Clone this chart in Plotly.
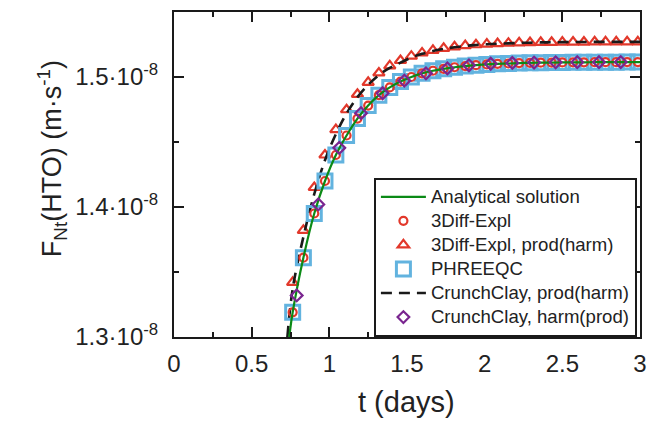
import numpy as np
import plotly.graph_objects as go

# ---------------- data (flux in units of 1e-8 m/s, time in days) ----------------
t_grid = [0.764, 0.833, 0.903, 0.972, 1.042, 1.111, 1.181, 1.250, 1.319, 1.389,
          1.458, 1.528, 1.597, 1.667, 1.736, 1.806, 1.875, 1.944, 2.014, 2.083,
          2.153, 2.222, 2.292, 2.361, 2.431, 2.500, 2.569, 2.639, 2.708, 2.778,
          2.847, 2.917, 2.986]

diff_expl = [1.319, 1.361, 1.395, 1.420, 1.440, 1.455, 1.468, 1.478, 1.486, 1.492,
             1.4965, 1.5000, 1.5028, 1.5048, 1.5063, 1.5075, 1.5084, 1.5091, 1.5097, 1.5101,
             1.5104, 1.5107, 1.5109, 1.5110, 1.5111, 1.5112, 1.5113, 1.5113, 1.5114, 1.5114,
             1.5114, 1.5115, 1.5115]

diff_expl_prod = [1.342, 1.382, 1.415, 1.440, 1.4595, 1.4748, 1.4867, 1.4959, 1.5031, 1.5086,
                  1.5127, 1.5160, 1.5185, 1.5205, 1.5220, 1.5232, 1.5241, 1.5248, 1.5253, 1.5257,
                  1.5260, 1.5263, 1.5265, 1.5266, 1.5267, 1.5268, 1.5269, 1.5269, 1.5270, 1.5270,
                  1.5270, 1.5270, 1.5270]

phreeqc = [1.319, 1.361, 1.395, 1.420, 1.440, 1.455, 1.468, 1.478, 1.486, 1.492,
           1.4965, 1.5000, 1.5028, 1.5048, 1.5063, 1.5075, 1.5084, 1.5091, 1.5097, 1.5101,
           1.5104, 1.5107, 1.5109, 1.5110, 1.5111, 1.5112, 1.5113, 1.5113, 1.5114, 1.5114,
           1.5114, 1.5115, 1.5115]

t_analytical = [0.742, 0.764, 0.833, 0.903, 0.972, 1.042, 1.111, 1.181, 1.250, 1.319, 1.389,
                1.458, 1.528, 1.597, 1.667, 1.736, 1.806, 1.875, 1.944, 2.014, 2.083,
                2.153, 2.222, 2.292, 2.361, 2.431, 2.500, 2.569, 2.639, 2.708, 2.778,
                2.847, 2.917, 2.986, 3.000]
analytical = [1.300, 1.319, 1.361, 1.395, 1.420, 1.440, 1.455, 1.468, 1.478, 1.486, 1.492,
              1.4965, 1.5000, 1.5028, 1.5048, 1.5063, 1.5075, 1.5084, 1.5091, 1.5097, 1.5101,
              1.5104, 1.5107, 1.5109, 1.5110, 1.5111, 1.5112, 1.5113, 1.5113, 1.5114, 1.5114,
              1.5114, 1.5115, 1.5115, 1.5115]

t_crunch_prod = [0.730, 0.764, 0.833, 0.903, 0.972, 1.042, 1.111, 1.181, 1.250, 1.319, 1.389,
                 1.458, 1.528, 1.597, 1.667, 1.736, 1.806, 1.875, 1.944, 2.014, 2.083,
                 2.153, 2.222, 2.292, 2.361, 2.431, 2.500, 2.569, 2.639, 2.708, 2.778,
                 2.847, 2.917, 2.986, 3.000]
crunch_prod = [1.300, 1.337, 1.377, 1.410, 1.436, 1.456, 1.472, 1.4845, 1.494, 1.5015, 1.507,
               1.511, 1.5150, 1.5178, 1.5200, 1.5216, 1.5229, 1.5239, 1.5246, 1.5252, 1.5256,
               1.5259, 1.5262, 1.5264, 1.5266, 1.5267, 1.5268, 1.5269, 1.5269, 1.5270, 1.5270,
               1.5270, 1.5270, 1.5270, 1.5270]

t_crunch_harm = [0.790, 0.929, 1.064, 1.204, 1.343, 1.483, 1.622, 1.760, 1.899, 2.039,
                 2.178, 2.318, 2.457, 2.596, 2.736, 2.876]
crunch_harm = [1.332, 1.402, 1.4455, 1.4722, 1.4875, 1.4972, 1.5028, 1.5066, 1.5090, 1.5102,
               1.5108, 1.5111, 1.5113, 1.5114, 1.5114, 1.5115]

y_tick_vals = [1.3, 1.4, 1.5]
y_tick_text = ["1.3·10<sup>-8</sup>", "1.4·10<sup>-8</sup>", "1.5·10<sup>-8</sup>"]
y_minor_vals = [1.35, 1.45]

SCALE = 1e-8
def sc(v):
    return (np.array(v) * SCALE).tolist()

RED = "#e2382b"
BLUE = "#62b3df"
PURPLE = "#7a2590"
GREEN = "#0b8a16"
AX = "#1a1a1a"
FONT = "Liberation Sans"

def lname(s):
    return '<span style="font-size:18.6px">' + s + '</span>'

fig = go.Figure()

fig.add_trace(go.Scatter(
    x=t_grid, y=sc(diff_expl_prod), mode="markers", name=lname("3Diff-Expl, prod(harm)"),
    legendrank=3,
    marker=dict(symbol="triangle-up-open", size=10, color=RED, line=dict(width=2.2, color=RED))))

fig.add_trace(go.Scatter(
    x=t_crunch_prod, y=sc(crunch_prod), mode="lines", name=lname("CrunchClay, prod(harm)"),
    legendrank=5, line=dict(color=AX, width=2.6, dash="11px,7px", shape="spline")))

fig.add_trace(go.Scatter(
    x=t_grid, y=sc(phreeqc), mode="markers", name=lname("PHREEQC"), legendrank=4,
    marker=dict(symbol="square-open", size=14, color=BLUE, line=dict(width=3, color=BLUE))))

fig.add_trace(go.Scatter(
    x=t_grid, y=sc(diff_expl), mode="markers", name=lname("3Diff-Expl"), legendrank=2,
    marker=dict(symbol="circle-open", size=8, color=RED, line=dict(width=2.2, color=RED))))

fig.add_trace(go.Scatter(
    x=t_analytical, y=sc(analytical), mode="lines", name=lname("Analytical solution"),
    legendrank=1, line=dict(color=GREEN, width=2.2, shape="spline")))

fig.add_trace(go.Scatter(
    x=t_crunch_harm, y=sc(crunch_harm), mode="markers", name=lname("CrunchClay, harm(prod)"),
    legendrank=6,
    marker=dict(symbol="diamond-open", size=9, color=PURPLE, line=dict(width=2.2, color=PURPLE))))

axis_common = dict(showline=True, linewidth=2, linecolor=AX, mirror="allticks",
                   ticks="inside", ticklen=10, tickwidth=2, tickcolor=AX,
                   showgrid=False, zeroline=False,
                   tickfont=dict(family=FONT, size=24, color="#222"))

fig.update_xaxes(range=[0, 3], tick0=0, dtick=0.5, ticklabelstandoff=4,
                 minor=dict(dtick=0.25, tick0=0, ticks="inside", ticklen=5,
                            tickwidth=2, tickcolor=AX, showgrid=False),
                 **axis_common)
fig.update_yaxes(range=[1.3 * SCALE, 1.55 * SCALE], tickmode="array",
                 tickvals=sc(y_tick_vals), ticktext=y_tick_text, ticklabelstandoff=9,
                 minor=dict(tickmode="array", tickvals=sc(y_minor_vals), ticks="inside",
                            ticklen=5, tickwidth=2, tickcolor=AX, showgrid=False),
                 **axis_common)

fig.add_annotation(text="F<sub>Nt</sub>(HTO) (m·s<sup>-1</sup>)", textangle=-90,
                   xref="paper", yref="paper", x=-0.262, y=0.55,
                   xanchor="center", yanchor="middle", showarrow=False,
                   font=dict(family=FONT, size=27, color="#222"))
fig.add_annotation(text="t (days)", xref="paper", yref="paper", x=0.498, y=-0.2,
                   xanchor="center", yanchor="middle", showarrow=False,
                   font=dict(family=FONT, size=29, color="#222"))

fig.update_layout(
    width=657, height=423,
    margin=dict(l=174, r=17, t=10, b=86),
    paper_bgcolor="white", plot_bgcolor="white",
    showlegend=True,
    legend=dict(x=0.429, y=0.49, xanchor="left", yanchor="top",
                bgcolor="white", bordercolor=AX, borderwidth=2,
                font=dict(family=FONT, size=16.2, color="#222"),
                itemwidth=45, tracegroupgap=0),
)

fig.write_html("out.html")
